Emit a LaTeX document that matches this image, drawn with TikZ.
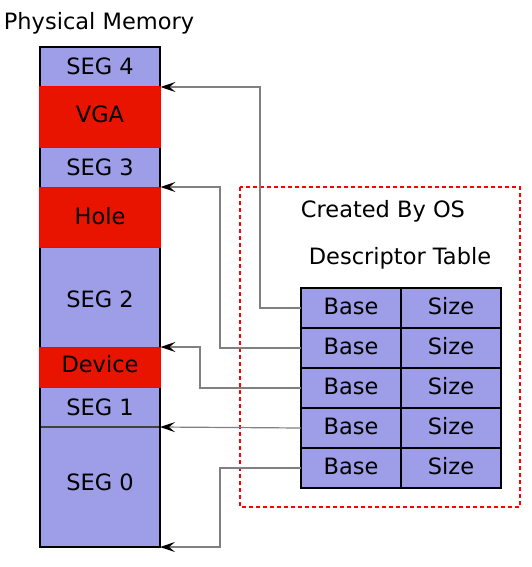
\documentclass[tikz,border=0pt]{standalone}
\usepackage{fontspec}
\setmainfont{DejaVu Sans}
\usetikzlibrary{arrows.meta}
\definecolor{segblue}{RGB}{157,157,232}
\definecolor{segred}{RGB}{232,20,0}
\definecolor{conngray}{RGB}{128,128,128}
\newcommand{\upby}[2]{\raisebox{#1}{#2}}
\begin{document}
\begin{tikzpicture}[x=1pt,y=-1pt,
  every node/.style={font=\fontsize{22.5}{26}\selectfont, inner sep=0pt, outer sep=0pt},
  box/.style={text height=16.4pt, text depth=0pt},
  seg/.style={box, rectangle, fill=segblue, minimum width=120pt, anchor=north west},
  hw/.style={box, rectangle, fill=segred, draw=red, line width=1pt, minimum width=121pt, anchor=north west},
  cell/.style={box, rectangle, fill=segblue, draw=black, line width=1.5pt, minimum width=100pt, minimum height=40pt, anchor=north west},
  conn/.style={draw=conngray, line width=1.2pt, -{Stealth[length=15pt,width=10pt,inset=6pt,color=black]}},
  lbl/.style={box, anchor=center}
]
\useasboundingbox (0,0) rectangle (532,567);
% memory column
\node[seg, minimum height=40pt] (seg4) at (40,47) {\upby{0.3pt}{SEG 4}};
\node[seg, minimum height=40pt] (seg3) at (40,147) {SEG 3};
\node[seg, minimum height=100pt] (seg2) at (40,247) {\upby{-2pt}{SEG 2}};
\node[seg, minimum height=40pt] (seg1) at (40,387) {SEG 1};
\node[seg, minimum height=120pt] (seg0) at (40,427) {\upby{4.3pt}{SEG 0}};
\draw[black!75, line width=1.2pt] (seg0.north west) -- (seg0.north east);
\draw[black, line width=2pt] (seg4.north west) rectangle (seg0.south east);
\node[hw, minimum height=60pt] (vga) at (39.5,87) {\upby{2.3pt}{VGA}};
\node[hw, minimum height=60pt] (hole) at (39.5,187) {\upby{0.7pt}{Hole}};
\node[hw, minimum height=40pt] (device) at (39.5,347) {\upby{2.7pt}{Device}};
\node[lbl] (pm) at (99,21) {Physical Memory};
% OS box
\draw[red, line width=1.3pt, dash pattern=on 4pt off 3pt] (240,187) rectangle (520,507);
\node[lbl] (cos) at (383,209) {Created By OS};
\node[lbl] (dt) at (400,256) {Descriptor Table};
\foreach \i in {1,...,5}{
  \node[cell] (b\i) at (301,248+40*\i) {\upby{1.3pt}{Base}};
  \node[cell] (s\i) at (401,248+40*\i) {\upby{1.3pt}{Size}};
}
% connectors
\draw[conn] (b1.west) -- ++(-41,0) |- (vga.north east);
\draw[conn] (b2.west) -- ++(-81,0) |- (hole.north east);
\draw[conn] (b3.west) -- ++(-101,0) |- (device.north east);
\draw[conn] (b4.west) -- (seg0.north east);
\draw[conn] (b5.west) -- ++(-81,0) |- (seg0.south east);
\end{tikzpicture}
\end{document}
